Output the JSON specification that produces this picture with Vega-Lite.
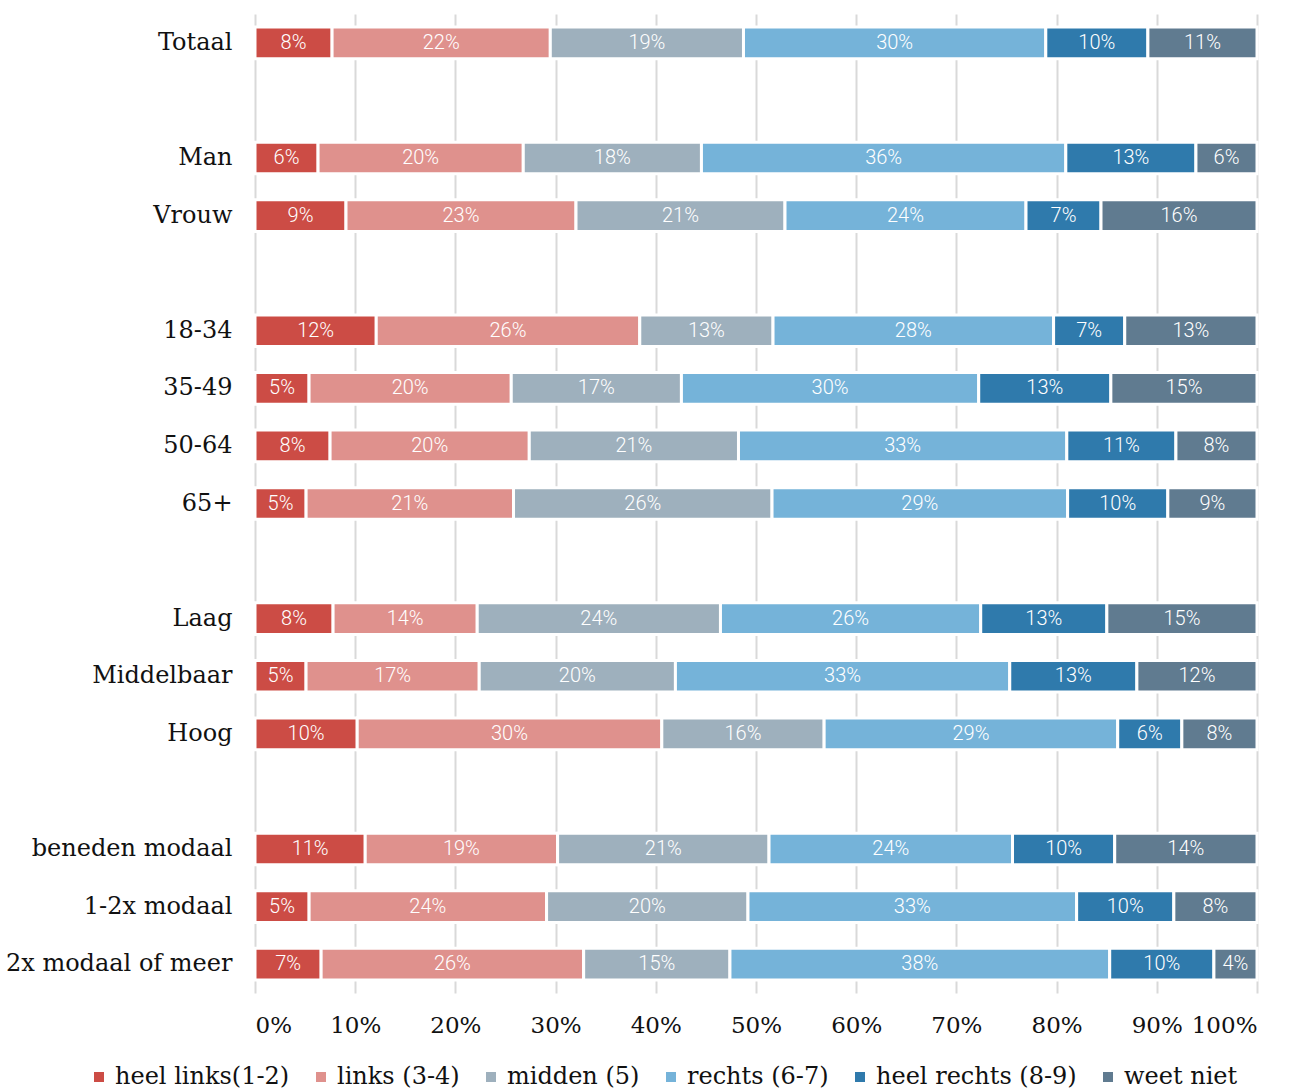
{
  "$schema": "https://vega.github.io/schema/vega-lite/v6.json",
  "width": 1002,
  "height": 979,
  "padding": {"left": 5, "top": 14, "right": 5, "bottom": 5},
  "autosize": {"type": "pad"},
  "background": "white",
  "config": {"view": {"stroke": null}},
  "data": {
    "values": [
      {"cat": "Totaal", "k": 1, "a": "heel links(1-2)", "v": 7.7, "lbl": "8%"},
      {"cat": "Totaal", "k": 2, "a": "links (3-4)", "v": 21.8, "lbl": "22%"},
      {"cat": "Totaal", "k": 3, "a": "midden (5)", "v": 19.3, "lbl": "19%"},
      {"cat": "Totaal", "k": 4, "a": "rechts (6-7)", "v": 30.2, "lbl": "30%"},
      {"cat": "Totaal", "k": 5, "a": "heel rechts (8-9)", "v": 10.2, "lbl": "10%"},
      {"cat": "Totaal", "k": 6, "a": "weet niet", "v": 10.9, "lbl": "11%"},
      {"cat": "Man", "k": 1, "a": "heel links(1-2)", "v": 6.3, "lbl": "6%"},
      {"cat": "Man", "k": 2, "a": "links (3-4)", "v": 20.5, "lbl": "20%"},
      {"cat": "Man", "k": 3, "a": "midden (5)", "v": 17.8, "lbl": "18%"},
      {"cat": "Man", "k": 4, "a": "rechts (6-7)", "v": 36.4, "lbl": "36%"},
      {"cat": "Man", "k": 5, "a": "heel rechts (8-9)", "v": 13.0, "lbl": "13%"},
      {"cat": "Man", "k": 6, "a": "weet niet", "v": 6.1, "lbl": "6%"},
      {"cat": "Vrouw", "k": 1, "a": "heel links(1-2)", "v": 9.1, "lbl": "9%"},
      {"cat": "Vrouw", "k": 2, "a": "links (3-4)", "v": 23.0, "lbl": "23%"},
      {"cat": "Vrouw", "k": 3, "a": "midden (5)", "v": 20.9, "lbl": "21%"},
      {"cat": "Vrouw", "k": 4, "a": "rechts (6-7)", "v": 24.1, "lbl": "24%"},
      {"cat": "Vrouw", "k": 5, "a": "heel rechts (8-9)", "v": 7.5, "lbl": "7%"},
      {"cat": "Vrouw", "k": 6, "a": "weet niet", "v": 15.6, "lbl": "16%"},
      {"cat": "18-34", "k": 1, "a": "heel links(1-2)", "v": 12.1, "lbl": "12%"},
      {"cat": "18-34", "k": 2, "a": "links (3-4)", "v": 26.3, "lbl": "26%"},
      {"cat": "18-34", "k": 3, "a": "midden (5)", "v": 13.3, "lbl": "13%"},
      {"cat": "18-34", "k": 4, "a": "rechts (6-7)", "v": 28.0, "lbl": "28%"},
      {"cat": "18-34", "k": 5, "a": "heel rechts (8-9)", "v": 7.1, "lbl": "7%"},
      {"cat": "18-34", "k": 6, "a": "weet niet", "v": 13.2, "lbl": "13%"},
      {"cat": "35-49", "k": 1, "a": "heel links(1-2)", "v": 5.4, "lbl": "5%"},
      {"cat": "35-49", "k": 2, "a": "links (3-4)", "v": 20.2, "lbl": "20%"},
      {"cat": "35-49", "k": 3, "a": "midden (5)", "v": 17.0, "lbl": "17%"},
      {"cat": "35-49", "k": 4, "a": "rechts (6-7)", "v": 29.7, "lbl": "30%"},
      {"cat": "35-49", "k": 5, "a": "heel rechts (8-9)", "v": 13.2, "lbl": "13%"},
      {"cat": "35-49", "k": 6, "a": "weet niet", "v": 14.6, "lbl": "15%"},
      {"cat": "50-64", "k": 1, "a": "heel links(1-2)", "v": 7.5, "lbl": "8%"},
      {"cat": "50-64", "k": 2, "a": "links (3-4)", "v": 19.9, "lbl": "20%"},
      {"cat": "50-64", "k": 3, "a": "midden (5)", "v": 20.9, "lbl": "21%"},
      {"cat": "50-64", "k": 4, "a": "rechts (6-7)", "v": 32.8, "lbl": "33%"},
      {"cat": "50-64", "k": 5, "a": "heel rechts (8-9)", "v": 10.9, "lbl": "11%"},
      {"cat": "50-64", "k": 6, "a": "weet niet", "v": 8.1, "lbl": "8%"},
      {"cat": "65+", "k": 1, "a": "heel links(1-2)", "v": 5.1, "lbl": "5%"},
      {"cat": "65+", "k": 2, "a": "links (3-4)", "v": 20.7, "lbl": "21%"},
      {"cat": "65+", "k": 3, "a": "midden (5)", "v": 25.8, "lbl": "26%"},
      {"cat": "65+", "k": 4, "a": "rechts (6-7)", "v": 29.5, "lbl": "29%"},
      {"cat": "65+", "k": 5, "a": "heel rechts (8-9)", "v": 10.0, "lbl": "10%"},
      {"cat": "65+", "k": 6, "a": "weet niet", "v": 8.9, "lbl": "9%"},
      {"cat": "Laag", "k": 1, "a": "heel links(1-2)", "v": 7.8, "lbl": "8%"},
      {"cat": "Laag", "k": 2, "a": "links (3-4)", "v": 14.4, "lbl": "14%"},
      {"cat": "Laag", "k": 3, "a": "midden (5)", "v": 24.3, "lbl": "24%"},
      {"cat": "Laag", "k": 4, "a": "rechts (6-7)", "v": 26.0, "lbl": "26%"},
      {"cat": "Laag", "k": 5, "a": "heel rechts (8-9)", "v": 12.6, "lbl": "13%"},
      {"cat": "Laag", "k": 6, "a": "weet niet", "v": 15.0, "lbl": "15%"},
      {"cat": "Middelbaar", "k": 1, "a": "heel links(1-2)", "v": 5.1, "lbl": "5%"},
      {"cat": "Middelbaar", "k": 2, "a": "links (3-4)", "v": 17.3, "lbl": "17%"},
      {"cat": "Middelbaar", "k": 3, "a": "midden (5)", "v": 19.6, "lbl": "20%"},
      {"cat": "Middelbaar", "k": 4, "a": "rechts (6-7)", "v": 33.4, "lbl": "33%"},
      {"cat": "Middelbaar", "k": 5, "a": "heel rechts (8-9)", "v": 12.7, "lbl": "13%"},
      {"cat": "Middelbaar", "k": 6, "a": "weet niet", "v": 12.0, "lbl": "12%"},
      {"cat": "Hoog", "k": 1, "a": "heel links(1-2)", "v": 10.2, "lbl": "10%"},
      {"cat": "Hoog", "k": 2, "a": "links (3-4)", "v": 30.4, "lbl": "30%"},
      {"cat": "Hoog", "k": 3, "a": "midden (5)", "v": 16.2, "lbl": "16%"},
      {"cat": "Hoog", "k": 4, "a": "rechts (6-7)", "v": 29.3, "lbl": "29%"},
      {"cat": "Hoog", "k": 5, "a": "heel rechts (8-9)", "v": 6.4, "lbl": "6%"},
      {"cat": "Hoog", "k": 6, "a": "weet niet", "v": 7.5, "lbl": "8%"},
      {"cat": "beneden modaal", "k": 1, "a": "heel links(1-2)", "v": 11.0, "lbl": "11%"},
      {"cat": "beneden modaal", "k": 2, "a": "links (3-4)", "v": 19.2, "lbl": "19%"},
      {"cat": "beneden modaal", "k": 3, "a": "midden (5)", "v": 21.1, "lbl": "21%"},
      {"cat": "beneden modaal", "k": 4, "a": "rechts (6-7)", "v": 24.3, "lbl": "24%"},
      {"cat": "beneden modaal", "k": 5, "a": "heel rechts (8-9)", "v": 10.2, "lbl": "10%"},
      {"cat": "beneden modaal", "k": 6, "a": "weet niet", "v": 14.2, "lbl": "14%"},
      {"cat": "1-2x modaal", "k": 1, "a": "heel links(1-2)", "v": 5.4, "lbl": "5%"},
      {"cat": "1-2x modaal", "k": 2, "a": "links (3-4)", "v": 23.7, "lbl": "24%"},
      {"cat": "1-2x modaal", "k": 3, "a": "midden (5)", "v": 20.1, "lbl": "20%"},
      {"cat": "1-2x modaal", "k": 4, "a": "rechts (6-7)", "v": 32.8, "lbl": "33%"},
      {"cat": "1-2x modaal", "k": 5, "a": "heel rechts (8-9)", "v": 9.7, "lbl": "10%"},
      {"cat": "1-2x modaal", "k": 6, "a": "weet niet", "v": 8.3, "lbl": "8%"},
      {"cat": "2x modaal of meer", "k": 1, "a": "heel links(1-2)", "v": 6.6, "lbl": "7%"},
      {"cat": "2x modaal of meer", "k": 2, "a": "links (3-4)", "v": 26.2, "lbl": "26%"},
      {"cat": "2x modaal of meer", "k": 3, "a": "midden (5)", "v": 14.6, "lbl": "15%"},
      {"cat": "2x modaal of meer", "k": 4, "a": "rechts (6-7)", "v": 37.9, "lbl": "38%"},
      {"cat": "2x modaal of meer", "k": 5, "a": "heel rechts (8-9)", "v": 10.4, "lbl": "10%"},
      {"cat": "2x modaal of meer", "k": 6, "a": "weet niet", "v": 4.3, "lbl": "4%"}
    ]
  },
  "encoding": {
    "y": {
      "field": "cat",
      "type": "nominal",
      "title": null,
      "scale": {
        "domain": ["Totaal", " ", "Man", "Vrouw", "  ", "18-34", "35-49", "50-64", "65+", "   ", "Laag", "Middelbaar", "Hoog", "    ", "beneden modaal", "1-2x modaal", "2x modaal of meer"],
        "paddingInner": 0.45,
        "paddingOuter": 0.225
      },
      "axis": {
        "ticks": false,
        "domain": false,
        "labelFont": "DejaVu Serif",
        "labelFontSize": 24,
        "labelColor": "#111111",
        "labelPadding": 23,
        "labelLimit": 400
      }
    },
    "x": {
      "field": "v",
      "type": "quantitative",
      "stack": "normalize",
      "title": null,
      "scale": {"domain": [0, 1], "nice": false},
      "axis": {
        "format": ".0%",
        "values": [0, 0.1, 0.2, 0.3, 0.4, 0.5, 0.6, 0.7, 0.8, 0.9, 1],
        "domain": false,
        "ticks": false,
        "grid": true,
        "gridColor": "#d9d9d9",
        "gridWidth": 2,
        "labelFont": "DejaVu Serif",
        "labelFontSize": 23,
        "labelColor": "#111111",
        "labelPadding": 21
      }
    },
    "order": {"field": "k", "type": "quantitative"}
  },
  "layer": [
    {
      "mark": {"type": "bar", "stroke": "white", "strokeWidth": 3},
      "encoding": {
        "color": {
          "field": "a",
          "type": "nominal",
          "sort": null,
          "scale": {
            "domain": ["heel links(1-2)", "links (3-4)", "midden (5)", "rechts (6-7)", "heel rechts (8-9)", "weet niet"],
            "range": ["#cc4c45", "#df918d", "#9eb0bd", "#75b3d9", "#2f7aac", "#607b90"]
          },
          "legend": {
            "title": null,
            "orient": "none",
            "legendX": -168,
            "legendY": 1051,
            "direction": "horizontal",
            "columns": 6,
            "symbolType": "square",
            "symbolSize": 100,
            "symbolStrokeWidth": 0,
            "labelFont": "DejaVu Serif",
            "labelFontSize": 24,
            "labelColor": "#111111",
            "labelOffset": 4,
            "columnPadding": 19,
            "labelLimit": 400
          }
        }
      }
    },
    {
      "mark": {"type": "text", "color": "white", "font": "Roboto", "fontSize": 20, "fontWeight": 300, "baseline": "middle", "align": "center"},
      "encoding": {
        "x": {"field": "v", "type": "quantitative", "stack": "normalize", "bandPosition": 0.5},
        "detail": {"field": "a", "type": "nominal"},
        "text": {"field": "lbl", "type": "nominal"}
      }
    }
  ]
}
